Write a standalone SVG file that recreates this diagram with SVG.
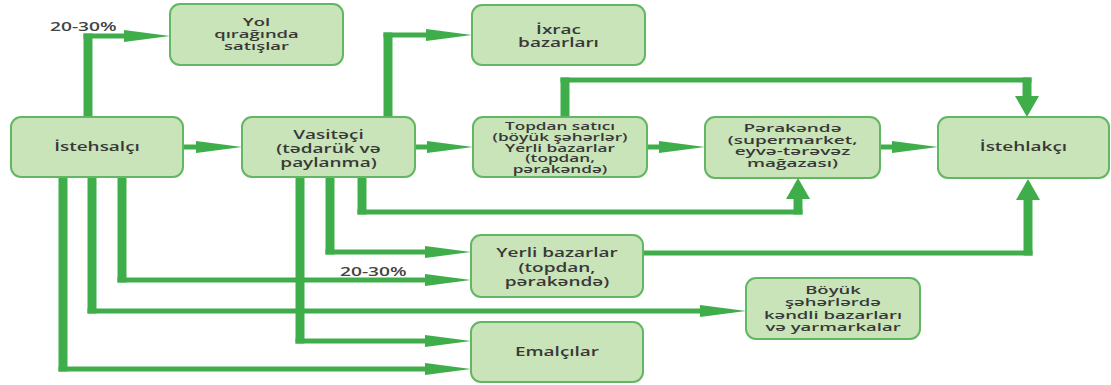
<svg xmlns="http://www.w3.org/2000/svg" width="1111" height="385" viewBox="0 0 1111 385">
<style>
.box{fill:#c8e4b8;stroke:#63b664;stroke-width:2}
.t{font-family:"Open Sans","Noto Sans",sans-serif;font-weight:600;font-size:12px;fill:#383838;text-anchor:middle}
.m{font-size:11px}
.s{font-size:10px}
.h{fill:none;stroke:#3fae4a;stroke-width:5}
.v{fill:none;stroke:#3fae4a;stroke-width:9}
.lbl{font-family:"Open Sans","Noto Sans",sans-serif;font-weight:600;font-size:12px;fill:#444}
</style>
<defs>
<marker id="ah" markerUnits="userSpaceOnUse" viewBox="0 -12 46 24" markerWidth="46" markerHeight="24" refX="0" refY="0" orient="auto" overflow="visible"><path d="M0,-6 L46,0 L0,6 z" fill="#3fae4a"/></marker>
<marker id="av" markerUnits="userSpaceOnUse" viewBox="0 -12 21 24" markerWidth="21" markerHeight="24" refX="0" refY="0" orient="auto" overflow="visible"><path d="M0,-12 L21,0 L0,12 z" fill="#3fae4a"/></marker>
</defs>
<g id="connectors">
<g id="c1"><path class="v" d="M88,117 V33.5"/><path class="h" d="M83.5,36 H124" marker-end="url(#ah)"/></g>
<g id="c2"><path class="h" d="M183,147 H196" marker-end="url(#ah)"/></g>
<g id="c3"><path class="v" d="M388,117 V32.5"/><path class="h" d="M383.5,35 H426" marker-end="url(#ah)"/></g>
<g id="c4"><path class="h" d="M415,147 H427" marker-end="url(#ah)"/></g>
<g id="c5"><path class="h" d="M647,147 H659" marker-end="url(#ah)"/></g>
<g id="c6"><path class="h" d="M880,147 H892" marker-end="url(#ah)"/></g>
<g id="c7"><path class="v" d="M565,117 V77.5"/><path class="h" d="M560.5,80 H1031.5"/><path class="v" d="M1027,77.5 V96" marker-end="url(#av)"/></g>
<g id="c8"><path class="v" d="M362,177 V214.5"/><path class="h" d="M357.5,212 H802.5"/><path class="v" d="M798,214.5 V199" marker-end="url(#av)"/></g>
<g id="c9"><path class="h" d="M643,253 H1032.5"/><path class="v" d="M1028,255.5 V200" marker-end="url(#av)"/></g>
<g id="c10"><path class="v" d="M330,177 V254.5"/><path class="h" d="M325.5,252 H425" marker-end="url(#ah)"/></g>
<g id="c11"><path class="v" d="M122,177 V282.5"/><path class="h" d="M117.5,280 H425" marker-end="url(#ah)"/></g>
<g id="c12"><path class="v" d="M92,177 V313.5"/><path class="h" d="M87.5,311 H700" marker-end="url(#ah)"/></g>
<g id="c13"><path class="v" d="M300,177 V343.5"/><path class="h" d="M295.5,341 H425" marker-end="url(#ah)"/></g>
<g id="c14"><path class="v" d="M63,177 V371.5"/><path class="h" d="M58.5,369 H425" marker-end="url(#ah)"/></g>
<text class="lbl" transform="translate(50 0) scale(1.6 1)" x="0" y="31">20-30%</text>
<text class="lbl" transform="translate(340 0) scale(1.6 1)" x="0" y="276">20-30%</text>
</g>
<g id="n-istehsalci"><rect class="box" x="11" y="117" width="172" height="60" rx="10"/><text class="t" transform="translate(97 0) scale(1.58 1)"><tspan x="0" y="151.5">İstehsalçı</tspan></text></g>
<g id="n-yol"><rect class="box" x="170" y="4" width="173" height="61" rx="10"/><text class="t m" transform="translate(256.5 0) scale(1.68 1)"><tspan x="0" y="26.5">Yol</tspan><tspan x="0" y="38.5">qırağında</tspan><tspan x="0" y="50.5">satışlar</tspan></text></g>
<g id="n-vasiteci"><rect class="box" x="242" y="117" width="173" height="60" rx="10"/><text class="t" transform="translate(328.5 0) scale(1.58 1)"><tspan x="0" y="139">Vasitəçi</tspan><tspan x="0" y="153">(tədarük və</tspan><tspan x="0" y="167">paylanma)</tspan></text></g>
<g id="n-ixrac"><rect class="box" x="472" y="5" width="173" height="60" rx="10"/><text class="t" transform="translate(558.5 0) scale(1.58 1)"><tspan x="0" y="34">İxrac</tspan><tspan x="0" y="47">bazarları</tspan></text></g>
<g id="n-topdan"><rect class="box" x="473" y="117" width="174" height="60" rx="10"/><text class="t s" transform="translate(560 0) scale(1.72 1)"><tspan x="0" y="130">Topdan satıcı</tspan><tspan x="0" y="141">(böyük şəhərlər)</tspan><tspan x="0" y="152">Yerli bazarlar</tspan><tspan x="0" y="162.5">(topdan,</tspan><tspan x="0" y="173">pərakəndə)</tspan></text></g>
<g id="n-perakende"><rect class="box" x="705" y="117" width="175" height="61" rx="10"/><text class="t m" transform="translate(792.5 0) scale(1.72 1)"><tspan x="0" y="132">Pərakəndə</tspan><tspan x="0" y="144">(supermarket,</tspan><tspan x="0" y="155.5">eyvə-tərəvəz</tspan><tspan x="0" y="167">mağazası)</tspan></text></g>
<g id="n-istehlakci"><rect class="box" x="938" y="117" width="171" height="61" rx="10"/><text class="t" transform="translate(1023.5 0) scale(1.58 1)"><tspan x="0" y="151.5">İstehlakçı</tspan></text></g>
<g id="n-yerli"><rect class="box" x="471" y="235" width="172" height="62" rx="10"/><text class="t" transform="translate(557 0) scale(1.58 1)"><tspan x="0" y="257">Yerli bazarlar</tspan><tspan x="0" y="272">(topdan,</tspan><tspan x="0" y="286">pərakəndə)</tspan></text></g>
<g id="n-boyuk"><rect class="box" x="746" y="278" width="174" height="61" rx="10"/><text class="t m" transform="translate(833 0) scale(1.68 1)"><tspan x="0" y="294">Böyük</tspan><tspan x="0" y="306.5">şəhərlərdə</tspan><tspan x="0" y="319">kəndli bazarları</tspan><tspan x="0" y="331.5">və yarmarkalar</tspan></text></g>
<g id="n-emalcilar"><rect class="box" x="471" y="322" width="172" height="60" rx="10"/><text class="t" transform="translate(557 0) scale(1.58 1)"><tspan x="0" y="356.5">Emalçılar</tspan></text></g>
</svg>
